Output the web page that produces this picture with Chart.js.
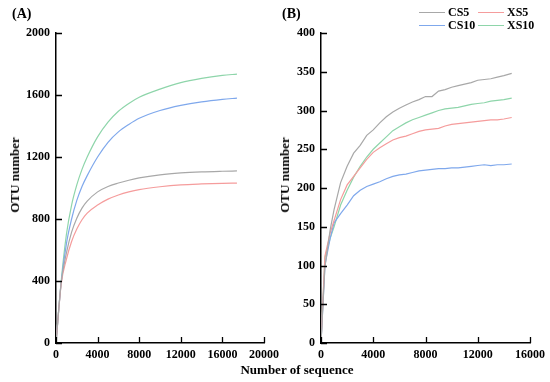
<!DOCTYPE html>
<html>
<head>
<meta charset="utf-8">
<script src="https://cdn.jsdelivr.net/npm/chart.js@4/dist/chart.umd.min.js"></script>
<style>
  body { margin: 0; background: #fff; }
  #wrap { position: relative; width: 550px; height: 382px; overflow: hidden;
          font-family: 'Liberation Serif', 'Times New Roman', serif; font-weight: bold; color: #000; }
  canvas { position: absolute; top: 0; }
  .lbl { position: absolute; white-space: nowrap; }
  .ytitle { position: absolute; font-size: 13px; white-space: nowrap;
            transform: translate(-50%, -50%) rotate(-90deg); }
  .leg { position: absolute; font-size: 12px; line-height: 13px; white-space: nowrap; }
  .leg b { position: absolute; left: 0; top: 6px; width: 26px; height: 0; border-top: 1.5px solid; }
</style>
</head>
<body>
<div id="wrap">
  <canvas id="chartA" width="290" height="382" style="left:0"></canvas>
  <canvas id="chartB" width="275" height="382" style="left:275px"></canvas>
  <div class="lbl" style="left:12px; top:6px; font-size:14px;">(A)</div>
  <div class="lbl" style="left:282px; top:6px; font-size:14px;">(B)</div>
  <div class="ytitle" style="left:15px; top:175px;">OTU number</div>
  <div class="ytitle" style="left:285px; top:175px;">OTU number</div>
  <div class="lbl" style="left:297px; top:370px; font-size:13px; transform:translate(-50%,-50%);">Number of sequence</div>
  <div id="legend"></div>
</div>
<script>
// panel A - sequencing depth vs OTU count
var seqA = [0, 500, 1000, 1500, 2000, 2500, 3000, 4000, 5000, 6000, 7000, 8000, 10000, 12000, 14000, 16000, 17400];
var cs5A  = [0, 390, 580, 715, 805, 870, 915, 975, 1010, 1032, 1050, 1065, 1085, 1097, 1104, 1108, 1110];
var xs5A  = [0, 380, 540, 655, 735, 795, 838, 890, 928, 955, 975, 990, 1008, 1020, 1026, 1030, 1032];
var cs10A = [0, 390, 640, 800, 920, 1010, 1080, 1200, 1295, 1362, 1410, 1450, 1500, 1533, 1556, 1572, 1580];
var xs10A = [0, 400, 700, 890, 1020, 1120, 1200, 1330, 1425, 1495, 1545, 1585, 1638, 1680, 1707, 1726, 1735];

// panel B
var seqB = [0, 300, 700, 1000, 1500, 2000, 2500, 3000, 3500, 4000, 4500, 5000, 5500, 6000, 6500, 7000,
            7500, 8000, 8500, 9000, 9500, 10000, 10500, 11000, 11500, 12000, 12500, 13000, 13500, 14000, 14600];
var cs5B  = [0, 98, 146, 172, 207, 228, 245, 255, 268, 275, 284, 292, 298, 303, 307, 311,
             314, 318, 318, 325, 327, 330, 332, 334, 336, 339, 340, 341, 343, 345, 348];
var xs5B  = [0, 112, 142, 158, 185, 204, 215, 226, 237, 246, 252, 257, 262, 265, 267, 270,
             273, 275, 276, 277, 280, 282, 283, 284, 285, 286, 287, 288, 288, 289, 291];
var cs10B = [0, 100, 135, 155, 167, 178, 190, 197, 202, 205, 208, 212, 215, 217, 218, 220,
             222, 223, 224, 225, 225, 226, 226, 227, 228, 229, 230, 229, 230, 230, 231];
var xs10B = [0, 110, 135, 150, 178, 197, 214, 228, 240, 250, 258, 266, 274, 279, 284, 288,
             291, 294, 297, 300, 302, 303, 304, 306, 308, 309, 310, 312, 313, 314, 316];

var names = ['CS5', 'XS5', 'CS10', 'XS10'];
var colors = ['#a8a8a8', '#f59c9c', '#7fa8ec', '#8ed5aa'];

var font = { family: "'Liberation Serif', 'Times New Roman', serif", size: 12, weight: 'bold' };

// ticks in the reference point into the plot area
var innerTicks = {
    id: 'innerTicks',
    afterDraw: function (chart) {
        var ctx = chart.ctx, a = chart.chartArea;
        var xs = chart.scales.x, ys = chart.scales.y;
        ctx.save();
        ctx.strokeStyle = '#000';
        ctx.lineWidth = 1.3;
        ctx.beginPath();
        xs.ticks.forEach(function (t) {
            var px = Math.round(xs.getPixelForValue(t.value)) + 0.5;
            ctx.moveTo(px, a.bottom);
            ctx.lineTo(px, a.bottom - 6);
        });
        ys.ticks.forEach(function (t) {
            var py = Math.round(ys.getPixelForValue(t.value)) + 0.5;
            ctx.moveTo(a.left, py);
            ctx.lineTo(a.left + 6, py);
        });
        ctx.stroke();
        ctx.restore();
    }
};

function makeSets(xs, series, tension) {
    return series.map(function (vals, i) {
        return {
            label: names[i],
            data: vals.map(function (v, k) { return { x: xs[k], y: v }; }),
            borderColor: colors[i],
            borderWidth: 1.2,
            pointRadius: 0,
            fill: false,
            tension: tension,
            cubicInterpolationMode: tension ? 'monotone' : 'default'
        };
    });
}

function plain(v) { return String(v); }

function makeChart(id, sets, xMax, yMax, yStep, yWidth, padRight) {
    return new Chart(document.getElementById(id), {
        type: 'line',
        data: { datasets: sets },
        plugins: [innerTicks],
        options: {
            responsive: false,
            animation: false,
            layout: { padding: { top: 33, right: padRight, bottom: 0, left: 0 } },
            plugins: { legend: { display: false }, tooltip: { enabled: false } },
            scales: {
                x: {
                    type: 'linear', min: 0, max: xMax,
                    grid: { display: false, drawTicks: false },
                    border: { color: '#000', width: 1.5 },
                    ticks: { stepSize: 4000, color: '#000', font: font, padding: 5, maxRotation: 0, callback: plain },
                    afterFit: function (s) { s.height = 39; }
                },
                y: {
                    min: 0, max: yMax,
                    grid: { display: false, drawTicks: false },
                    border: { color: '#000', width: 1.5 },
                    ticks: { stepSize: yStep, color: '#000', font: font, padding: 6, callback: plain },
                    afterFit: function (s) { s.width = yWidth; }
                }
            }
        }
    });
}

makeChart('chartA', makeSets(seqA, [cs5A, xs5A, cs10A, xs10A], 0.4), 20000, 2000, 400, 56, 26);
makeChart('chartB', makeSets(seqB, [cs5B, xs5B, cs10B, xs10B], 0), 16000, 400, 50, 46, 20);

// legend, two columns at top right of panel B
var legPos = [[419, 6], [478, 6], [419, 19], [478, 19]];
var legend = document.getElementById('legend');
names.forEach(function (n, i) {
    var d = document.createElement('div');
    d.className = 'leg';
    d.style.left = legPos[i][0] + 'px';
    d.style.top = legPos[i][1] + 'px';
    d.innerHTML = '<b style="border-color:' + colors[i] + '"></b><span style="margin-left:29px">' + n + '</span>';
    legend.appendChild(d);
});
</script>
</body>
</html>
